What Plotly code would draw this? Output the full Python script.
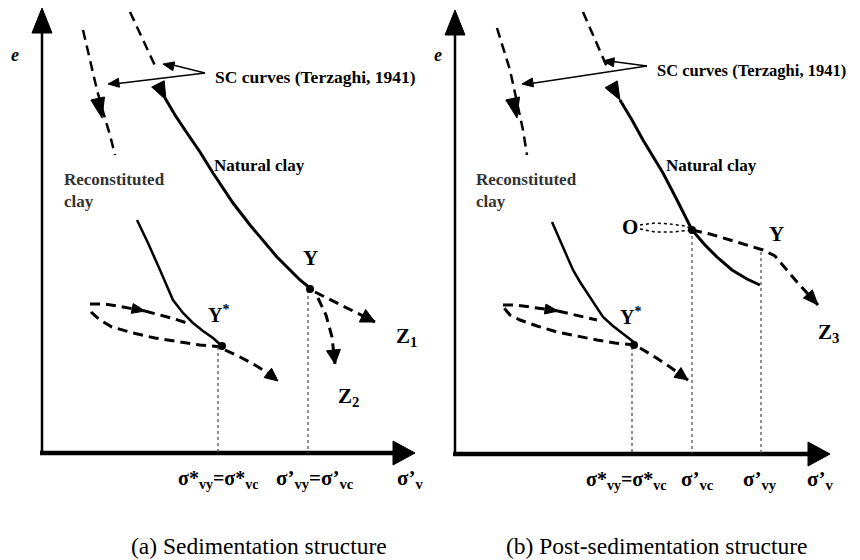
import math
import plotly.graph_objects as go

# ---------------- data (schematic coordinates, y grows downward) ----------------
# Panel (a) Sedimentation structure
a_yaxis_x = [42, 42];   a_yaxis_y = [455, 8]
a_xaxis_x = [40, 415];  a_xaxis_y = [453, 453]
a_recon_sc_x = [83, 90, 97, 104, 110, 115]
a_recon_sc_y = [30, 60, 90, 115, 135, 155]
a_recon_sc_head = ([98, 102], [100, 118])
a_nat_sc_x = [130, 143, 157]
a_nat_sc_y = [12, 40, 70]
a_nat_sc_head = ([158, 166], [84, 100])
a_natural_x = [165, 175, 187, 200, 213, 233, 250, 263, 277, 290, 300, 310]
a_natural_y = [98, 115, 133, 152, 173, 203, 225, 240, 257, 270, 280, 288]
a_recon_x = [137, 148, 160, 173, 183, 193, 203, 213, 223]
a_recon_y = [220, 243, 270, 300, 313, 323, 331, 338, 347]
a_loop_low_x = [222, 200, 180, 155, 133, 112, 100, 92, 90]
a_loop_low_y = [347, 345, 342, 338, 333, 327, 320, 313, 306]
a_loop_up_x = [90, 105, 117, 130, 145]
a_loop_up_y = [304, 304, 306, 308, 311]
a_loop_up2_x = [145, 160, 175, 190]
a_loop_up2_y = [311, 315, 319, 324]
a_ystar_out_x = [225, 240, 255, 268, 278]
a_ystar_out_y = [350, 357, 365, 373, 381]
a_z1_x = [315, 335, 355, 375]
a_z1_y = [292, 302, 312, 322]
a_z2_x = [318, 326, 332, 335]
a_z2_y = [298, 315, 337, 364]
a_vlines_x = [218, 308]
a_vlines_top = [347, 290]
a_points_x = [222, 310]
a_points_y = [346, 289]
a_sc_text = (213, 77)
a_sc_tips = ([163, 108], [64, 84])

# Panel (b) Post-sedimentation structure
b_yaxis_x = [455, 455]; b_yaxis_y = [455, 10]
b_xaxis_x = [453, 830]; b_xaxis_y = [454, 454]
b_recon_sc_x = [497, 504, 510, 518, 523, 527]
b_recon_sc_y = [28, 50, 70, 107, 130, 155]
b_recon_sc_head = ([513, 517], [100, 118])
b_nat_sc_x = [583, 595, 607]
b_nat_sc_y = [12, 40, 67]
b_nat_sc_head = ([611, 620], [84, 100])
b_natural_x = [620, 632, 643, 653, 663, 677, 692, 705, 718, 732, 747, 760]
b_natural_y = [100, 120, 140, 157, 173, 200, 230, 245, 258, 270, 279, 285]
b_recon_x = [552, 560, 567, 573, 580, 587, 595, 603, 613, 623, 635]
b_recon_y = [222, 240, 255, 270, 282, 293, 305, 317, 326, 334, 343]
b_loop_low_x = [635, 615, 597, 577, 557, 537, 520, 510, 504]
b_loop_low_y = [345, 343, 340, 336, 332, 326, 320, 315, 308]
b_loop_up_x = [503, 515, 530, 545, 558]
b_loop_up_y = [305, 305, 307, 309, 311]
b_loop_up2_x = [558, 575, 597]
b_loop_up2_y = [311, 315, 320]
b_ystar_out_x = [640, 655, 670, 688]
b_ystar_out_y = [348, 357, 367, 380]
b_oyz_x = [692, 710, 730, 750, 763, 775, 785, 797, 808, 818]
b_oyz_y = [230, 234, 240, 246, 250, 256, 268, 282, 294, 305]
b_oloop_up_x = [640, 655, 670, 685, 692]
b_oloop_up_y = [225, 223, 224, 226, 229]
b_oloop_low_x = [640, 655, 672, 692]
b_oloop_low_y = [229, 232, 232, 230]
b_vlines_x = [632, 692, 761]
b_vlines_top = [347, 230, 252]
b_points_x = [634, 692]
b_points_y = [345, 230]
b_sc_text = (655, 70)
b_sc_tips = ([603, 522], [61, 84])

axis_base_y = 453

# page offset of the plot inside the browser (body margin)
PAGE_OFF = 8

# ---------------- helpers ----------------
fig = go.Figure()
DASH = "10px,6px"


def line(x, y, width=2.5, dash="solid", color="black"):
    fig.add_trace(go.Scatter(x=x, y=y, mode="lines",
                             line=dict(color=color, width=width, dash=dash),
                             hoverinfo="skip"))


def head(px, py, L=16, W=6):
    tx, ty = px[-1], py[-1]
    sx, sy = px[-2], py[-2]
    d = math.hypot(tx - sx, ty - sy)
    ux, uy = (tx - sx) / d, (ty - sy) / d
    bx, by = tx - L * ux, ty - L * uy
    nx, ny = -uy, ux
    fig.add_trace(go.Scatter(
        x=[tx, bx + W * nx, bx - W * nx, tx],
        y=[ty, by + W * ny, by - W * ny, ty],
        mode="lines", fill="toself", fillcolor="black",
        line=dict(color="black", width=1), hoverinfo="skip"))


def panel(p):
    # axes
    line(p["yax_x"][:1] * 2, [p["yax_y"][0], p["yax_y"][1] + 20], width=2.5)
    head(p["yax_x"], p["yax_y"], L=25, W=10)
    line([p["xax_x"][0], p["xax_x"][1] - 18], p["xax_y"], width=4.5)
    head(p["xax_x"], p["xax_y"], L=22, W=12)
    # SC curves
    line(p["rsc_x"], p["rsc_y"], width=2.5, dash=DASH)
    head(*p["rsc_head"], L=20, W=7)
    line(p["nsc_x"], p["nsc_y"], width=2.5, dash=DASH)
    head(*p["nsc_head"], L=18, W=7)
    # natural and reconstituted curves
    line(p["nat_x"], p["nat_y"], width=3)
    line(p["rec_x"], p["rec_y"], width=2.5)
    # loop
    line(p["low_x"], p["low_y"], width=3, dash=DASH)
    line(p["up_x"], p["up_y"], width=3, dash=DASH)
    head(p["up_x"], p["up_y"], L=13, W=5)
    line(p["up2_x"], p["up2_y"], width=3, dash=DASH)
    line(p["yso_x"], p["yso_y"], width=3, dash=DASH)
    head(p["yso_x"], p["yso_y"], L=13, W=6)
    # vertical projections
    for vx, vt in zip(p["vx"], p["vt"]):
        line([vx, vx], [vt, axis_base_y], width=1.3, dash="dot", color="#555")
    fig.add_trace(go.Scatter(x=p["pt_x"], y=p["pt_y"], mode="markers",
                             marker=dict(color="black", size=8), hoverinfo="skip"))
    # SC annotation arrows
    tx, ty = p["sc_text"]
    for hx, hy in zip(*p["sc_tips"]):
        line([tx - 8, hx + 6], [ty - 4, hy], width=1.3)
        head([tx - 8, hx], [ty - 4, hy], L=11, W=4.5)


panel(dict(yax_x=a_yaxis_x, yax_y=a_yaxis_y, xax_x=a_xaxis_x, xax_y=a_xaxis_y,
           rsc_x=a_recon_sc_x, rsc_y=a_recon_sc_y, rsc_head=a_recon_sc_head,
           nsc_x=a_nat_sc_x, nsc_y=a_nat_sc_y, nsc_head=a_nat_sc_head,
           nat_x=a_natural_x, nat_y=a_natural_y, rec_x=a_recon_x, rec_y=a_recon_y,
           low_x=a_loop_low_x, low_y=a_loop_low_y, up_x=a_loop_up_x, up_y=a_loop_up_y,
           up2_x=a_loop_up2_x, up2_y=a_loop_up2_y,
           yso_x=a_ystar_out_x, yso_y=a_ystar_out_y,
           vx=a_vlines_x, vt=a_vlines_top, pt_x=a_points_x, pt_y=a_points_y,
           sc_text=a_sc_text, sc_tips=a_sc_tips))

panel(dict(yax_x=b_yaxis_x, yax_y=b_yaxis_y, xax_x=b_xaxis_x, xax_y=b_xaxis_y,
           rsc_x=b_recon_sc_x, rsc_y=b_recon_sc_y, rsc_head=b_recon_sc_head,
           nsc_x=b_nat_sc_x, nsc_y=b_nat_sc_y, nsc_head=b_nat_sc_head,
           nat_x=b_natural_x, nat_y=b_natural_y, rec_x=b_recon_x, rec_y=b_recon_y,
           low_x=b_loop_low_x, low_y=b_loop_low_y, up_x=b_loop_up_x, up_y=b_loop_up_y,
           up2_x=b_loop_up2_x, up2_y=b_loop_up2_y,
           yso_x=b_ystar_out_x, yso_y=b_ystar_out_y,
           vx=b_vlines_x, vt=b_vlines_top, pt_x=b_points_x, pt_y=b_points_y,
           sc_text=b_sc_text, sc_tips=b_sc_tips))

# panel (a) extra branches
line(a_z1_x, a_z1_y, width=3, dash=DASH)
head(a_z1_x, a_z1_y, L=14, W=7)
line(a_z2_x, a_z2_y, width=3, dash=DASH)
head(a_z2_x, a_z2_y, L=14, W=7)

# panel (b) extra branches
line(b_oyz_x, b_oyz_y, width=3, dash=DASH)
head(b_oyz_x, b_oyz_y, L=15, W=6)
line(b_oloop_up_x, b_oloop_up_y, width=1.5, dash="dot")
line(b_oloop_low_x, b_oloop_low_y, width=1.5, dash="dot")

# ---------------- text ----------------
SERIF = "Liberation Serif"


def txt(x, y, s, size=15, bold=True, color="black", anchor="center", italic=False):
    if bold:
        s = "<b>" + s + "</b>"
    if italic:
        s = "<i>" + s + "</i>"
    fig.add_annotation(x=x, y=y, text=s, showarrow=False, xanchor=anchor,
                       yanchor="middle", font=dict(family=SERIF, size=size, color=color))


# axis names
txt(15, 55, "e", size=18, italic=True)
txt(438, 55, "e", size=18, italic=True)

# SC curves label
txt(a_sc_text[0], a_sc_text[1], "SC curves (Terzaghi, 1941)", size=17.5, anchor="left")
txt(b_sc_text[0], b_sc_text[1], "SC curves (Terzaghi, 1941)", size=16.5, anchor="left")

# clay labels
txt(259, 165, "Natural clay", size=17)
txt(711, 165, "Natural clay", size=17)
txt(62, 179, "Reconstituted", size=17, anchor="left", color="#333")
txt(62, 201, "clay", size=17, anchor="left", color="#333")
txt(474, 179, "Reconstituted", size=17, anchor="left", color="#333")
txt(474, 201, "clay", size=17, anchor="left", color="#333")

# point labels
txt(310, 258, "Y", size=21)
txt(218, 314, "Y<sup>*</sup>", size=20)
txt(406, 337, "Z<sub>1</sub>", size=21)
txt(348, 397, "Z<sub>2</sub>", size=21)
txt(776, 234, "Y", size=21)
txt(630, 316, "Y<sup>*</sup>", size=20)
txt(828, 333, "Z<sub>3</sub>", size=21)
txt(630, 227, "O", size=21)

# axis tick-like labels
txt(218, 479, "σ*<sub>vy</sub>=σ*<sub>vc</sub>", size=20)
txt(315, 479, "σ’<sub>vy</sub>=σ’<sub>vc</sub>", size=21)
txt(410, 479, "σ’<sub>v</sub>", size=21)
txt(626, 480, "σ*<sub>vy</sub>=σ*<sub>vc</sub>", size=20)
txt(697, 480, "σ’<sub>vc</sub>", size=21)
txt(760, 480, "σ’<sub>vy</sub>", size=21)
txt(820, 480, "σ’<sub>v</sub>", size=21)

# captions
txt(259, 546, "(a) Sedimentation structure", size=23.5, bold=False)
txt(657, 546, "(b) Post-sedimentation structure", size=23.5, bold=False)

fig.update_layout(
    width=860, height=560,
    margin=dict(l=0, r=0, t=0, b=0),
    paper_bgcolor="white", plot_bgcolor="white",
    showlegend=False,
    xaxis=dict(range=[PAGE_OFF, 860 + PAGE_OFF], visible=False, fixedrange=True),
    yaxis=dict(range=[560 + PAGE_OFF, PAGE_OFF], visible=False, fixedrange=True),
)

fig.write_html("out.html")
